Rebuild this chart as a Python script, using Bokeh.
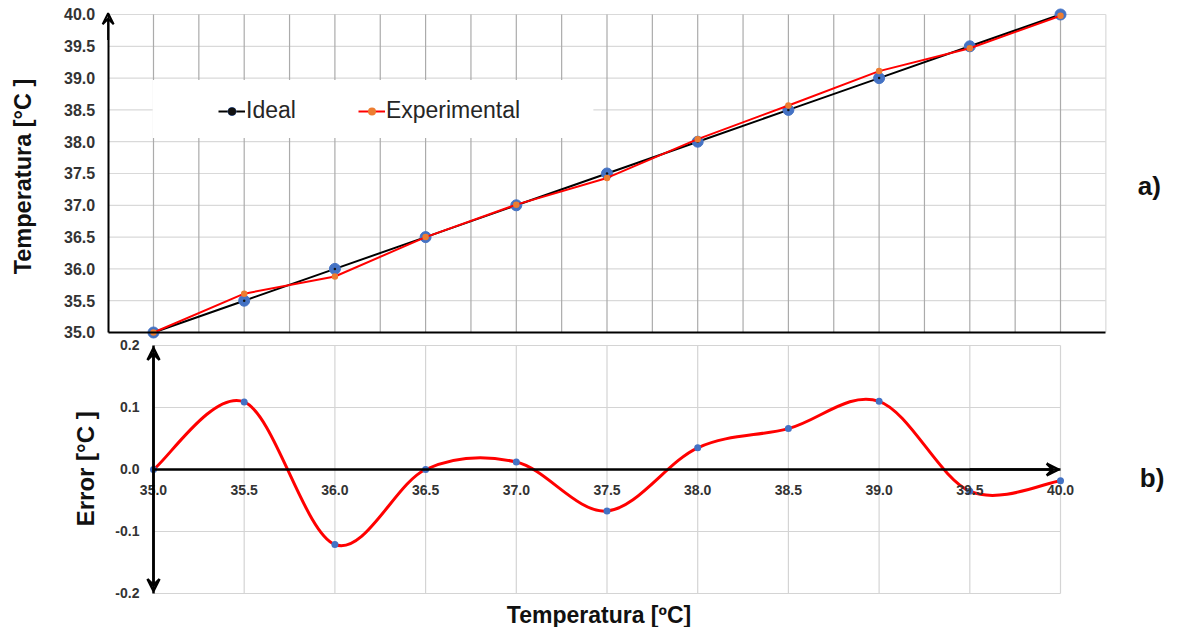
import numpy as np
from bokeh.plotting import figure
from bokeh.models import (Range1d, LinearAxis, FixedTicker, NumeralTickFormatter,
                          Arrow, VeeHead, Legend, LegendItem)
from bokeh.core.properties import value
from bokeh.embed import file_html
from bokeh.resources import INLINE

# ---------------- data ----------------
temps = [35.0, 35.5, 36.0, 36.5, 37.0, 37.5, 38.0, 38.5, 39.0, 39.5, 40.0]
ideal = [35.0, 35.5, 36.0, 36.5, 37.0, 37.5, 38.0, 38.5, 39.0, 39.5, 40.0]
experimental = [35.0, 35.61, 35.88, 36.5, 37.01, 37.43, 38.04, 38.57, 39.11, 39.47, 39.98]
error = [0.0, 0.109, -0.121, 0.0, 0.012, -0.067, 0.035, 0.066, 0.11, -0.035, -0.018]

top_y_ticks = [35.0, 35.5, 36.0, 36.5, 37.0, 37.5, 38.0, 38.5, 39.0, 39.5, 40.0]
top_x_grid = [35.0, 35.25, 35.5, 35.75, 36.0, 36.25, 36.5, 36.75, 37.0, 37.25, 37.5,
              37.75, 38.0, 38.25, 38.5, 38.75, 39.0, 39.25, 39.5, 39.75, 40.0]
bottom_x_ticks = [35.0, 35.5, 36.0, 36.5, 37.0, 37.5, 38.0, 38.5, 39.0, 39.5, 40.0]
bottom_y_ticks = [-0.2, -0.1, 0.0, 0.1, 0.2]

FONT = "Liberation Sans"
BLUE = "#4472C4"
ORANGE = "#ED7D31"
RED = "#FF0000"
TXT = "#111111"
TICK = "#333333"

# one canvas holding both panels; the lower panel uses its own y range
p = figure(width=1167, height=627, min_border=0,
           x_range=Range1d(34.1566, 40.5898), y_range=Range1d(30.3616, 40.2201),
           x_axis_type=None, y_axis_type=None,
           output_backend="svg", toolbar_location=None)
p.extra_y_ranges = {"err": Range1d(-0.25484, 0.75645)}
p.outline_line_color = None

# ================= panel a) =================
XL, XR = 34.75, 40.25
hy = top_y_ticks[1:]
p.segment(x0=[XL] * len(hy), y0=hy, x1=[XR] * len(hy), y1=hy,
          line_color="#d9d9d9", line_width=1.2)
p.segment(x0=top_x_grid, y0=[top_y_ticks[0]] * len(top_x_grid), x1=top_x_grid,
          y1=[top_y_ticks[-1]] * len(top_x_grid), line_color="#ababab", line_width=1.2)
p.segment(x0=[XR], y0=[top_y_ticks[0]], x1=[XR], y1=[top_y_ticks[-1]],
          line_color="#d9d9d9", line_width=1.2)

# white box behind the legend
p.quad(left=[34.995], right=[37.425], bottom=[38.057], top=[38.97],
       fill_color="white", line_color=None)

r_il = p.line(temps, ideal, line_color="black", line_width=2)
r_im = p.scatter(temps, ideal, size=11, fill_color=BLUE, line_color=BLUE)
r_id = p.scatter(temps, ideal, size=2.5, fill_color="#111111", line_color=None)
r_el = p.line(temps, experimental, line_color=RED, line_width=2)
r_em = p.scatter(temps, experimental, size=6.5, fill_color=ORANGE, line_color=None)

yax = LinearAxis(fixed_location=XL, ticker=FixedTicker(ticks=top_y_ticks), bounds=(35, 40),
                 formatter=NumeralTickFormatter(format="0.0"),
                 major_label_text_font=FONT, major_label_text_font_style="bold",
                 major_label_text_font_size="16px", major_label_text_color=TICK,
                 major_label_standoff=7,
                 axis_line_color="black", axis_line_width=2,
                 major_tick_line_color=None, minor_tick_line_color=None)
p.add_layout(yax, "left")

xax1 = LinearAxis(fixed_location=35.0, ticker=FixedTicker(ticks=[]), bounds=(XL, XR),
                  axis_line_color="black", axis_line_width=2,
                  major_tick_line_color=None, minor_tick_line_color=None,
                  major_label_text_font_size="0px")
p.add_layout(xax1, "below")

p.add_layout(Arrow(end=VeeHead(size=11, line_color="black", line_width=2, fill_color=None),
                   x_start=XL, y_start=39.6, x_end=XL, y_end=40.02,
                   line_color="black", line_width=2))

legend = Legend(items=[LegendItem(label="Ideal", renderers=[r_il, r_im, r_id]),
                       LegendItem(label="Experimental", renderers=[r_el, r_em])],
                location=(218, 503), orientation="horizontal",
                background_fill_alpha=0, border_line_color=None,
                padding=0, margin=0, spacing=62, label_standoff=1,
                glyph_width=27, glyph_height=20,
                label_text_font=FONT, label_text_font_size="23px",
                label_text_color="#262626")
p.add_layout(legend)

p.text(x=[34.2779], y=[37.4528], text=["Temperatura [°C ]"], angle=np.pi / 2,
       text_font=value(FONT), text_font_style="bold", text_font_size="23.5px",
       text_color=TXT, text_align="center", text_baseline="middle")
p.text(x=[40.4262], y=[37.296], text=["a)"],
       text_font=value(FONT), text_font_style="bold", text_font_size="26px",
       text_color=TXT, text_align="left", text_baseline="middle")

# ================= panel b) =================
gy = [v for v in bottom_y_ticks if v != 0.0]
p.segment(x0=[bottom_x_ticks[0]] * len(gy), y0=gy, x1=[bottom_x_ticks[-1]] * len(gy), y1=gy,
          line_color="#d4d4d4", line_width=1.2, y_range_name="err")
gx = bottom_x_ticks[1:]
p.segment(x0=gx, y0=[bottom_y_ticks[0]] * len(gx), x1=gx, y1=[bottom_y_ticks[-1]] * len(gx),
          line_color="#d4d4d4", line_width=1.2, y_range_name="err")

# smooth curve through the measured points (cardinal-spline Bezier segments)
xs = np.array(temps)
ys = np.array(error)
n = len(xs)
prev = np.r_[0, np.arange(n - 1)]
nxt = np.r_[np.arange(1, n), n - 1]
tx = xs[nxt] - xs[prev]
ty = ys[nxt] - ys[prev]
p.bezier(x0=xs[:-1], y0=ys[:-1], x1=xs[1:], y1=ys[1:],
         cx0=xs[:-1] + tx[:-1] / 6, cy0=ys[:-1] + ty[:-1] / 6,
         cx1=xs[1:] - tx[1:] / 6, cy1=ys[1:] - ty[1:] / 6,
         line_color=RED, line_width=3, y_range_name="err")

xax2 = LinearAxis(fixed_location=0.0, y_range_name="err",
                  ticker=FixedTicker(ticks=bottom_x_ticks), bounds=(35, 40),
                  formatter=NumeralTickFormatter(format="0.0"),
                  major_label_text_font=FONT, major_label_text_font_style="bold",
                  major_label_text_font_size="14px", major_label_text_color=TICK,
                  major_label_standoff=10,
                  axis_line_color="black", axis_line_width=2.5,
                  major_tick_line_color=None, minor_tick_line_color=None)
p.add_layout(xax2, "below")

yax2 = LinearAxis(fixed_location=35.0, y_range_name="err",
                  ticker=FixedTicker(ticks=bottom_y_ticks), bounds=(-0.2, 0.2),
                  formatter=NumeralTickFormatter(format="0.0"),
                  major_label_text_font=FONT, major_label_text_font_style="bold",
                  major_label_text_font_size="14px", major_label_text_color=TICK,
                  major_label_standoff=8,
                  axis_line_color="black", axis_line_width=2.5,
                  major_tick_line_color=None, minor_tick_line_color=None)
p.add_layout(yax2, "left")

p.scatter(temps, error, size=7, fill_color=BLUE, line_color=None, y_range_name="err")

p.add_layout(Arrow(start=VeeHead(size=12, line_color="black", line_width=2.5, fill_color=None),
                   end=VeeHead(size=12, line_color="black", line_width=2.5, fill_color=None),
                   x_start=35.0, y_start=-0.196, x_end=35.0, y_end=0.196,
                   line_color="black", line_width=2.5, y_range_name="err"))
p.add_layout(Arrow(end=VeeHead(size=12, line_color="black", line_width=2.5, fill_color=None),
                   x_start=39.5, y_start=0.0, x_end=39.99, y_end=0.0,
                   line_color="black", line_width=2.5, y_range_name="err"))

p.text(x=[34.625], y=[0.0065], text=["Error  [°C ]"], angle=np.pi / 2,
       text_font=value(FONT), text_font_style="bold", text_font_size="24px",
       text_color=TXT, text_align="center", text_baseline="middle", y_range_name="err")
p.text(x=[40.4372], y=[-0.0145], text=["b)"],
       text_font=value(FONT), text_font_style="bold", text_font_size="26px",
       text_color=TXT, text_align="left", text_baseline="middle", y_range_name="err")
p.text(x=[37.456], y=[-0.2339], text=["Temperatura [ºC]"],
       text_font=value(FONT), text_font_style="bold", text_font_size="23px",
       text_color=TXT, text_align="center", text_baseline="middle", y_range_name="err")

open("out.html", "w").write(file_html(p, INLINE))
